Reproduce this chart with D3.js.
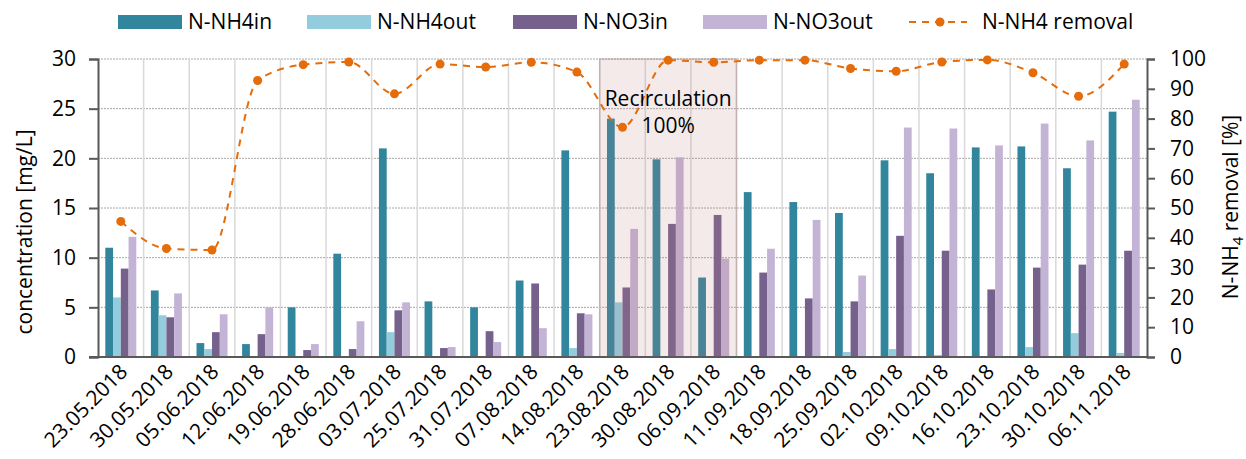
<!DOCTYPE html>
<html>
<head>
<meta charset="utf-8">
<script src="https://cdn.jsdelivr.net/npm/d3@7"></script>
<style>
  body { margin: 0; background: #fff; }
  svg { font-family: 'Open Sans', sans-serif; }
</style>
</head>
<body>
<div id="chart"></div>
<script>
// sampling dates
const dates = ['23.05.2018', '30.05.2018', '05.06.2018', '12.06.2018', '19.06.2018', '28.06.2018',
  '03.07.2018', '25.07.2018', '31.07.2018', '07.08.2018', '14.08.2018', '23.08.2018', '30.08.2018',
  '06.09.2018', '11.09.2018', '18.09.2018', '25.09.2018', '02.10.2018', '09.10.2018', '16.10.2018',
  '23.10.2018', '30.10.2018', '06.11.2018'];

// concentrations [mg/L]
const nh4in = [11.0, 6.7, 1.4, 1.3, 5.0, 10.4, 21.0, 5.6, 5.0, 7.7, 20.8, 24.0, 19.9, 8.0, 16.6, 15.6, 14.5, 19.8, 18.5, 21.1, 21.2, 19.0, 24.7];
const nh4out = [6.0, 4.2, 0.8, 0, 0, 0, 2.5, 0, 0.1, 0, 0.9, 5.5, 0, 0, 0, 0, 0.5, 0.8, 0.2, 0, 1.0, 2.4, 0.4];
const no3in = [8.9, 4.0, 2.5, 2.3, 0.7, 0.8, 4.7, 0.9, 2.6, 7.4, 4.4, 7.0, 13.4, 14.3, 8.5, 5.9, 5.6, 12.2, 10.7, 6.8, 9.0, 9.3, 10.7];
const no3out = [12.1, 6.4, 4.3, 5.0, 1.3, 3.6, 5.5, 1.0, 1.5, 2.9, 4.3, 12.9, 20.1, 9.9, 10.9, 13.8, 8.2, 23.1, 23.0, 21.3, 23.5, 21.8, 25.9];

// N-NH4 removal [%]
const removal = [45.5, 36.4, 35.9, 92.8, 98.1, 99.0, 88.3, 98.3, 97.3, 98.9, 95.6, 77.1, 99.6, 98.9, 99.6, 99.6, 96.8, 95.9, 99.0, 99.7, 95.4, 87.5, 98.3];

const seriesNames = ['N-NH4in', 'N-NH4out', 'N-NO3in', 'N-NO3out'];
const seriesValues = [nh4in, nh4out, no3in, no3out];
const leftTicks = [0, 5, 10, 15, 20, 25, 30];
const rightTicks = [0, 10, 20, 30, 40, 50, 60, 70, 80, 90, 100];
const recirculation = ['23.08.2018', '06.09.2018'];

const colors = ['#31859c', '#93cddd', '#76618d', '#c3b3d5'];
const orange = '#e46c0a';

const w = 1246, h = 459;
const m = { left: 98, right: 1147, top: 59, bottom: 357 };
const fs = 21;

let svg = d3.select('#chart').append('svg').attr('width', w).attr('height', h);

let x0 = d3.scaleBand().domain(dates).range([m.left, m.right]).padding(0);
let x1 = d3.scaleBand().domain(seriesNames).range([0, x0.bandwidth()]).paddingInner(0).paddingOuter(0.94);
let yL = d3.scaleLinear().domain([0, 30]).range([m.bottom, m.top]);
let yR = d3.scaleLinear().domain([0, 100]).range([m.bottom, m.top]);

// gridlines
svg.append('g')
  .selectAll('line')
  .data(leftTicks.slice(1))
  .enter().append('line')
  .attr('x1', m.left).attr('x2', m.right)
  .attr('y1', d => yL(d)).attr('y2', d => yL(d))
  .attr('stroke', '#a6a6a6').attr('stroke-width', 1).attr('stroke-dasharray', '2,1');

svg.append('g')
  .selectAll('line')
  .data(dates.slice(1))
  .enter().append('line')
  .attr('x1', d => x0(d)).attr('x2', d => x0(d))
  .attr('y1', m.top).attr('y2', m.bottom)
  .attr('stroke', '#d9d9d9').attr('stroke-width', 1.5);

// bars
let rows = dates.map((d, i) => ({ date: d, vals: seriesNames.map((s, j) => ({ key: s, idx: j, v: seriesValues[j][i] })) }));

svg.append('g')
  .selectAll('g')
  .data(rows)
  .enter().append('g')
  .attr('transform', d => 'translate(' + x0(d.date) + ',0)')
  .selectAll('rect')
  .data(d => d.vals)
  .enter().append('rect')
  .attr('x', d => x1(d.key))
  .attr('y', d => yL(d.v))
  .attr('width', x1.bandwidth())
  .attr('height', d => yL(0) - yL(d.v))
  .attr('fill', d => colors[d.idx]);

// recirculation shading
let rx0 = x0(recirculation[0]);
let rx1 = x0(recirculation[1]) + x0.bandwidth();
svg.append('rect')
  .attr('x', rx0).attr('y', m.top)
  .attr('width', rx1 - rx0).attr('height', m.bottom - m.top)
  .attr('fill', 'rgb(195,125,125)').attr('fill-opacity', 0.16)
  .attr('stroke', 'rgb(150,100,100)').attr('stroke-opacity', 0.3).attr('stroke-width', 1.5);

// axes
let yAxisL = d3.axisLeft(yL).tickValues(leftTicks).tickSize(9).tickPadding(13);
let gL = svg.append('g').attr('transform', 'translate(' + m.left + ',0)').call(yAxisL);

let yAxisR = d3.axisRight(yR).tickValues(rightTicks).tickSize(8).tickPadding(15);
let gR = svg.append('g').attr('transform', 'translate(' + m.right + ',0)').call(yAxisR);

let xAxis = d3.axisBottom(x0).tickSize(0).tickPadding(0);
let gX = svg.append('g').attr('transform', 'translate(0,' + m.bottom + ')').call(xAxis);

[gL, gR, gX].forEach(g => {
  g.select('.domain').attr('stroke', '#595959').attr('stroke-width', 2);
  g.selectAll('.tick line').attr('stroke', '#595959').attr('stroke-width', 2);
  g.selectAll('text').attr('font-size', fs).attr('fill', '#000').attr('font-family', "'Open Sans', sans-serif");
});
gX.select('.domain').attr('d', 'M' + (m.left - 9) + ',0H' + m.right);

gX.selectAll('.tick text')
  .attr('text-anchor', 'end')
  .attr('dy', 0)
  .attr('transform', 'translate(8,16) rotate(-45)');

// removal line
let line = d3.line()
  .x((d, i) => x0(dates[i]) + x0.bandwidth() / 2)
  .y(d => yR(d))
  .curve(d3.curveMonotoneX);

svg.append('path')
  .datum(removal)
  .attr('d', line)
  .attr('fill', 'none')
  .attr('stroke', orange).attr('stroke-width', 2).attr('stroke-dasharray', '7,6');

svg.append('g')
  .selectAll('circle')
  .data(removal)
  .enter().append('circle')
  .attr('cx', (d, i) => x0(dates[i]) + x0.bandwidth() / 2)
  .attr('cy', d => yR(d))
  .attr('r', 4.5)
  .attr('fill', orange);

// annotation
let rc = (rx0 + rx1) / 2;
svg.append('text').attr('x', rc).attr('y', 106).attr('text-anchor', 'middle')
  .attr('font-size', fs).text('Recirculation');
svg.append('text').attr('x', rc).attr('y', 133).attr('text-anchor', 'middle')
  .attr('font-size', fs).text('100%');

// axis titles
svg.append('text')
  .attr('transform', 'translate(32,232) rotate(-90)')
  .attr('text-anchor', 'middle')
  .attr('font-size', fs)
  .text('concentration [mg/L]');

let rt = svg.append('text')
  .attr('transform', 'translate(1238,207) rotate(-90)')
  .attr('text-anchor', 'middle')
  .attr('font-size', fs);
rt.append('tspan').text('N-NH');
rt.append('tspan').attr('font-size', 15).attr('dy', 5).text('4');
rt.append('tspan').attr('dy', -5).text(' removal [%]');

// legend
let legendX = [118, 307, 513, 703];
let lg = svg.append('g');
seriesNames.forEach((s, i) => {
  lg.append('rect').attr('x', legendX[i]).attr('y', 15).attr('width', 64).attr('height', 14).attr('fill', colors[i]);
  lg.append('text').attr('x', legendX[i] + 70).attr('y', 29).attr('font-size', fs).text(s);
});
lg.append('line').attr('x1', 909).attr('x2', 967).attr('y1', 22).attr('y2', 22)
  .attr('stroke', orange).attr('stroke-width', 2).attr('stroke-dasharray', '7,6');
lg.append('circle').attr('cx', 940).attr('cy', 22).attr('r', 4.5).attr('fill', orange);
lg.append('text').attr('x', 982).attr('y', 29).attr('font-size', fs).text('N-NH4 removal');
</script>
</body>
</html>
